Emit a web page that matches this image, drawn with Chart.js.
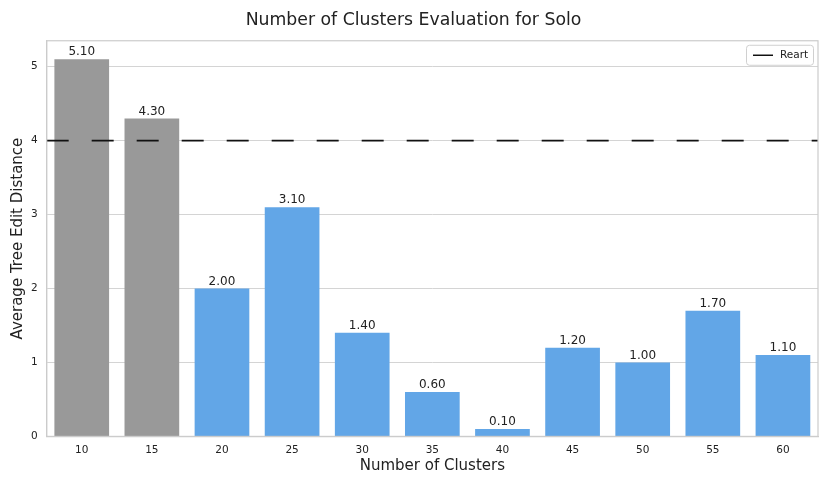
<!DOCTYPE html>
<html>
<head>
<meta charset="utf-8">
<script src="https://cdn.jsdelivr.net/npm/chart.js@4.4.0/dist/chart.umd.min.js"></script>
<style>
  html, body { margin: 0; padding: 0; background: #fff; }
  #wrap { width: 830px; height: 485px; }
</style>
</head>
<body>
<div id="wrap"><canvas id="clusterChart"></canvas></div>
<script>
var clusters = ["10", "15", "20", "25", "30", "35", "40", "45", "50", "55", "60"];
var distances = [5.10, 4.30, 2.00, 3.10, 1.40, 0.60, 0.10, 1.20, 1.00, 1.70, 1.10];
var barColors = ["#999999", "#999999", "#62a6e7", "#62a6e7", "#62a6e7", "#62a6e7",
                 "#62a6e7", "#62a6e7", "#62a6e7", "#62a6e7", "#62a6e7"];
var reartValue = 4.0;
var yTicks = [0, 1, 2, 3, 4, 5];

// value labels above bars
var barLabels = {
    id: 'barLabels',
    afterDatasetsDraw: function(chart) {
        var ctx = chart.ctx;
        var meta = chart.getDatasetMeta(0);
        ctx.save();
        ctx.font = '12px "DejaVu Sans"';
        ctx.fillStyle = '#222';
        ctx.textAlign = 'center';
        ctx.textBaseline = 'bottom';
        meta.data.forEach(function(bar, i) {
            ctx.fillText(distances[i].toFixed(2), bar.x, bar.y - 1);
        });
        ctx.restore();
    }
};

// dashed Reart reference line across the whole plot
var reartLine = {
    id: 'reartLine',
    afterDatasetsDraw: function(chart) {
        var ctx = chart.ctx;
        var a = chart.chartArea;
        var y = chart.scales.y.getPixelForValue(reartValue);
        ctx.save();
        ctx.strokeStyle = '#111';
        ctx.lineWidth = 1.6;
        ctx.setLineDash([22, 23]);
        ctx.beginPath();
        ctx.moveTo(a.left, y);
        ctx.lineTo(a.right, y);
        ctx.stroke();
        ctx.restore();
    }
};

// legend box in the upper right of the plot
var innerLegend = {
    id: 'innerLegend',
    afterDraw: function(chart) {
        var ctx = chart.ctx;
        var area = chart.chartArea;
        var w = 67, h = 20;
        var x = area.right - w - 5, y = area.top + 4;
        ctx.save();
        ctx.fillStyle = 'rgba(255,255,255,0.9)';
        ctx.strokeStyle = '#d0d0d0';
        ctx.lineWidth = 1;
        ctx.beginPath();
        ctx.roundRect(x + 0.5, y + 0.5, w, h, 3);
        ctx.fill();
        ctx.stroke();
        ctx.strokeStyle = '#111';
        ctx.lineWidth = 1.5;
        ctx.beginPath();
        ctx.moveTo(x + 7, y + h / 2 + 0.5);
        ctx.lineTo(x + 27, y + h / 2 + 0.5);
        ctx.stroke();
        ctx.fillStyle = '#222';
        ctx.font = '10.5px "DejaVu Sans"';
        ctx.textBaseline = 'middle';
        ctx.fillText('Reart', x + 34, y + h / 2 + 1);
        ctx.restore();
    }
};

var frame = {
    id: 'frame',
    afterDraw: function(chart) {
        var a = chart.chartArea;
        var c = chart.ctx;
        c.save();
        c.strokeStyle = '#cccccc';
        c.lineWidth = 1.2;
        c.strokeRect(a.left, a.top, a.right - a.left, a.bottom - a.top);
        c.restore();
    }
};

var ctx = document.getElementById('clusterChart').getContext('2d');
var myChart = new Chart(ctx, {
    type: 'bar',
    data: {
        labels: clusters,
        datasets: [
            {
                label: 'Average Tree Edit Distance',
                data: distances,
                backgroundColor: barColors,
                borderWidth: 0,
                grouped: false,
                barPercentage: 0.78,
                categoryPercentage: 1.0
            }
        ]
    },
    options: {
        responsive: true,
        maintainAspectRatio: false,
        animation: false,
        layout: { padding: { left: 9, right: 12, top: 0, bottom: 10 } },
        scales: {
            x: {
                grid: { display: false, drawTicks: false },
                border: { color: '#cccccc', width: 1.2 },
                ticks: { color: '#222', font: { family: 'DejaVu Sans', size: 10.5 }, padding: 8 },
                title: {
                    display: true,
                    text: 'Number of Clusters',
                    color: '#222',
                    font: { family: 'DejaVu Sans', size: 15 },
                    padding: { top: -8, bottom: 0 }
                }
            },
            y: {
                min: 0,
                max: 5.35,
                afterBuildTicks: function(axis) {
                    axis.ticks = yTicks.map(function(v) { return { value: v }; });
                },
                grid: { color: '#d4d4d4', lineWidth: 1, drawTicks: false },
                border: { color: '#cccccc', width: 1.2 },
                ticks: { color: '#222', font: { family: 'DejaVu Sans', size: 10.5 }, padding: 9 },
                title: {
                    display: true,
                    text: 'Average Tree Edit Distance',
                    color: '#222',
                    font: { family: 'DejaVu Sans', size: 15 },
                    padding: { top: 0, bottom: -5 }
                }
            }
        },
        plugins: {
            legend: { display: false },
            tooltip: { enabled: false },
            title: {
                display: true,
                text: 'Number of Clusters Evaluation for Solo',
                color: '#222',
                font: { family: 'DejaVu Sans', size: 17.3, weight: 'normal' },
                padding: { top: 10, bottom: 10 }
            }
        }
    },
    plugins: [reartLine, barLabels, innerLegend, frame]
});
</script>
</body>
</html>
